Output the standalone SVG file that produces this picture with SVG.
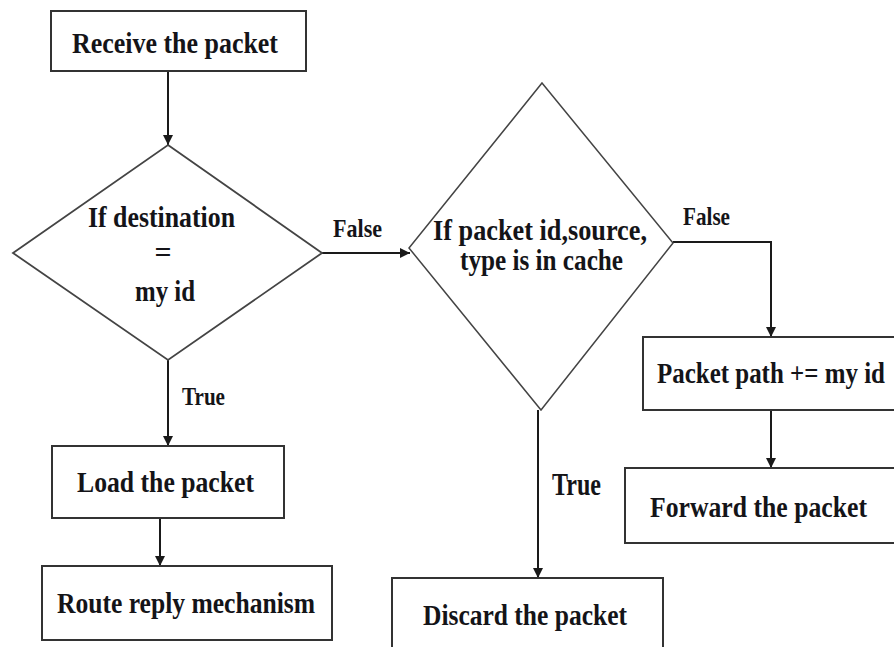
<svg xmlns="http://www.w3.org/2000/svg" width="894" height="647" viewBox="0 0 894 647">
<style>
.box{fill:#fff;stroke:#333;stroke-width:2}
.dia{fill:#fff;stroke:#444;stroke-width:1.8}
.t{font-family:"Liberation Serif","Times New Roman",serif;font-weight:bold;font-size:30px;fill:#141418;text-anchor:middle}
.l{font-family:"Liberation Serif","Times New Roman",serif;font-weight:bold;font-size:25px;fill:#141418;text-anchor:middle}
.c{fill:none;stroke:#1a1a1a;stroke-width:2}
</style>
<defs>
<marker id="ah" markerUnits="userSpaceOnUse" markerWidth="10" markerHeight="12" refX="10" refY="5" orient="auto">
<path d="M0,0 L10,5 L0,10 Z" fill="#1a1a1a"/>
</marker>
</defs>
<rect width="894" height="647" fill="#fff"/>
<g id="connectors">
<line class="c" x1="168" y1="71" x2="168" y2="145" marker-end="url(#ah)"/>
<line class="c" x1="168" y1="360" x2="168" y2="446" marker-end="url(#ah)"/>
<line class="c" x1="160" y1="518" x2="160" y2="566" marker-end="url(#ah)"/>
<line class="c" x1="322" y1="253" x2="410" y2="253" marker-end="url(#ah)"/>
<polyline class="c" points="673,242 771,242 771,337" marker-end="url(#ah)"/>
<line class="c" x1="771" y1="410" x2="771" y2="468" marker-end="url(#ah)"/>
<line class="c" x1="538" y1="410" x2="538" y2="578" marker-end="url(#ah)"/>
<text class="l" x="357.5" y="237" textLength="49" lengthAdjust="spacingAndGlyphs">False</text>
<text class="l" x="706.5" y="225" textLength="47" lengthAdjust="spacingAndGlyphs">False</text>
<text class="l" x="203.5" y="405" textLength="43" lengthAdjust="spacingAndGlyphs">True</text>
<text class="l" x="576.5" y="495" style="font-size:32px" textLength="49" lengthAdjust="spacingAndGlyphs">True</text>
</g>
<g id="receive">
<rect class="box" x="51" y="11" width="255" height="60"/>
<text class="t" x="175" y="53" textLength="206" lengthAdjust="spacingAndGlyphs">Receive the packet</text>
</g>
<g id="dest-check">
<polygon class="dia" points="168,145 322,253 168,360 13,253"/>
<text class="t" x="161.5" y="227" textLength="147" lengthAdjust="spacingAndGlyphs">If destination</text>
<text class="t" x="163" y="262">=</text>
<text class="t" x="165" y="301" textLength="60" lengthAdjust="spacingAndGlyphs">my id</text>
</g>
<g id="cache-check">
<polygon class="dia" points="542,83 673,243 541,410 409,248" style="stroke-width:1.5"/>
<text class="t" x="540" y="240" textLength="214" lengthAdjust="spacingAndGlyphs">If packet id,source,</text>
<text class="t" x="541.5" y="270" textLength="163" lengthAdjust="spacingAndGlyphs">type is in cache</text>
</g>
<g id="load">
<rect class="box" x="52" y="446" width="232" height="72"/>
<text class="t" x="165.5" y="492" textLength="177" lengthAdjust="spacingAndGlyphs">Load the packet</text>
</g>
<g id="route-reply">
<rect class="box" x="42" y="566" width="290" height="74"/>
<text class="t" x="186" y="613" textLength="258" lengthAdjust="spacingAndGlyphs">Route reply mechanism</text>
</g>
<g id="packet-path">
<rect class="box" x="643" y="337" width="256" height="73"/>
<text class="t" x="771" y="383" textLength="228" lengthAdjust="spacingAndGlyphs">Packet path += my id</text>
</g>
<g id="forward">
<rect class="box" x="625" y="468" width="274" height="75"/>
<text class="t" x="758.5" y="517" textLength="217" lengthAdjust="spacingAndGlyphs">Forward the packet</text>
</g>
<g id="discard">
<rect class="box" x="392" y="578" width="271" height="80"/>
<text class="t" x="525" y="625" textLength="204" lengthAdjust="spacingAndGlyphs">Discard the packet</text>
</g>
</svg>
